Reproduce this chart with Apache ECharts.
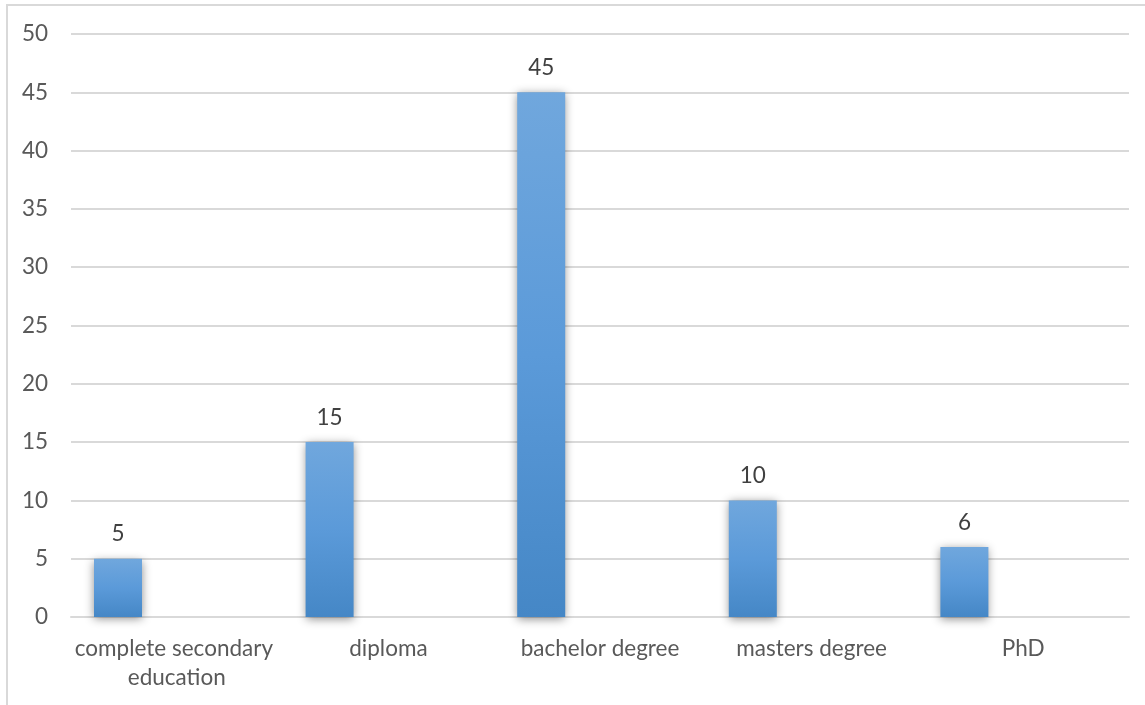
<!DOCTYPE html>
<html>
<head>
<meta charset="utf-8">
<title>Education level</title>
<script src="https://cdn.jsdelivr.net/npm/echarts@6/dist/echarts.min.js"></script>
<style>
  html, body { margin: 0; padding: 0; background: #ffffff; }
  #chart { width: 1145px; height: 705px; }
</style>
</head>
<body>
<div id="chart"></div>
<script>
// Education level categories and counts
const categories = ['complete secondary education', 'diploma', 'bachelor degree', 'masters degree', 'PhD'];
const counts = [5, 15, 45, 10, 6];
// second (empty) series slot that keeps the bars offset to the left of each category
const emptySlot = [null, null, null, null, null];
const yTicks = { min: 0, max: 50, interval: 5 };

const textColor = '#595959';
const gridColor = '#d9d9d9';
const fontFamily = 'Lato, "Open Sans", sans-serif';

const barFill = new echarts.graphic.LinearGradient(0, 0, 0, 1, [
  { offset: 0, color: '#70a7dd' },
  { offset: 0.5, color: '#5b9ad9' },
  { offset: 1, color: '#4587c6' }
]);

const chart = echarts.init(document.getElementById('chart'), null, { renderer: 'canvas' });
chart.setOption({
  animation: false,
  backgroundColor: '#ffffff',
  textStyle: { fontFamily: fontFamily },
  grid: { left: 71, right: 16, top: 34, bottom: 88, containLabel: false },
  graphic: [{
    type: 'rect',
    shape: { x: 7, y: 5, width: 1200, height: 800 },
    style: { fill: 'none', stroke: gridColor, lineWidth: 2 },
    silent: true
  }],
  xAxis: {
    type: 'category',
    data: categories,
    axisLine: { show: true, lineStyle: { color: gridColor, width: 2 } },
    axisTick: { show: false },
    axisLabel: {
      color: textColor,
      fontSize: 22.5,
      fontFamily: fontFamily,
      margin: 17,
      lineHeight: 29,
      width: 205,
      overflow: 'break',
      interval: 0
    }
  },
  yAxis: {
    type: 'value',
    min: yTicks.min,
    max: yTicks.max,
    interval: yTicks.interval,
    axisLine: { show: false },
    axisTick: { show: false },
    splitLine: { lineStyle: { color: gridColor, width: 2 } },
    axisLabel: { color: textColor, fontSize: 22.5, fontFamily: fontFamily, margin: 23 }
  },
  series: [
    {
      name: 'count',
      type: 'bar',
      data: counts,
      barWidth: 48,
      barGap: '145%',
      itemStyle: {
        color: barFill,
        shadowColor: 'rgba(0,0,0,0.45)',
        shadowBlur: 9,
        shadowOffsetX: 0,
        shadowOffsetY: 2
      },
      label: {
        show: true,
        position: 'top',
        distance: 13,
        color: '#404040',
        fontSize: 22.5,
        fontFamily: fontFamily
      }
    },
    {
      name: 'slot',
      type: 'bar',
      data: emptySlot,
      barWidth: 48
    }
  ]
});
</script>
</body>
</html>
